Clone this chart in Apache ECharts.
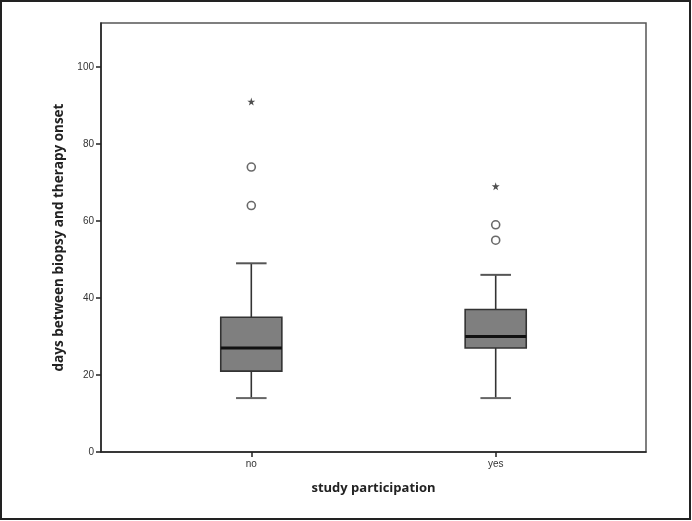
<!DOCTYPE html>
<html>
<head>
<meta charset="utf-8">
<script src="https://cdn.jsdelivr.net/npm/echarts@6/dist/echarts.min.js"></script>
<style>
html,body{margin:0;padding:0;background:#fff;}
#c{width:692px;height:521px;}
</style>
</head>
<body>
<div id="c"></div>
<script>
// Data
const categories = ['no', 'yes'];
// [whiskerLow, Q1, median, Q3, whiskerHigh]
const boxStats = [
  [14, 21, 27, 35, 49],
  [14, 27, 30, 37, 46]
];
const outliers = [[0, 64], [0, 74], [1, 55], [1, 59]];
const extremes = [[0, 91], [1, 69]];
const yTicks = [0, 20, 40, 60, 80, 100];
const xTicks = [0, 1];

const chart = echarts.init(document.getElementById('c'), null, {renderer: 'canvas'});

const boxData = boxStats.map((s, i) => [i].concat(s));

function renderBox(params, api) {
  const x = api.value(0);
  const lo = api.coord([x, api.value(1)]);
  const q1 = api.coord([x, api.value(2)]);
  const md = api.coord([x, api.value(3)]);
  const q3 = api.coord([x, api.value(4)]);
  const hi = api.coord([x, api.value(5)]);
  const w = api.size([1, 0])[0] * 0.25;
  const cx = lo[0];
  const cap = w / 2;
  return {
    type: 'group',
    children: [
      {type: 'line', shape: {x1: cx, y1: lo[1], x2: cx, y2: q1[1]}, style: {stroke: '#333', lineWidth: 1.6}},
      {type: 'line', shape: {x1: cx, y1: q3[1], x2: cx, y2: hi[1]}, style: {stroke: '#333', lineWidth: 1.6}},
      {type: 'line', shape: {x1: cx - cap / 2, y1: lo[1], x2: cx + cap / 2, y2: lo[1]}, style: {stroke: '#666', lineWidth: 2}},
      {type: 'line', shape: {x1: cx - cap / 2, y1: hi[1], x2: cx + cap / 2, y2: hi[1]}, style: {stroke: '#555', lineWidth: 2}},
      {type: 'rect', shape: {x: cx - w / 2, y: q3[1], width: w, height: q1[1] - q3[1]}, style: {fill: '#7f7f7f', stroke: '#333', lineWidth: 1.6}},
      {type: 'line', shape: {x1: cx - w / 2, y1: md[1], x2: cx + w / 2, y2: md[1]}, style: {stroke: '#111', lineWidth: 3}}
    ]
  };
}

const option = {
  animation: false,
  backgroundColor: '#fff',
  graphic: [
    {type: 'rect', shape: {x: 1, y: 1, width: 689, height: 518}, style: {fill: 'none', stroke: '#222', lineWidth: 2}, z: 100}
  ],
  grid: {
    left: 101, right: 46, top: 23, bottom: 69,
    show: true, borderColor: '#555', borderWidth: 1.5, backgroundColor: '#fff'
  },
  xAxis: {
    type: 'value', min: -0.615, max: 1.615,
    splitLine: {show: false},
    axisLine: {show: true, onZero: false, lineStyle: {color: '#222', width: 1.5}},
    axisTick: {show: true, customValues: xTicks, length: 5, lineStyle: {color: '#222', width: 1.5}},
    axisLabel: {customValues: xTicks, formatter: v => categories[Math.round(v)], color: '#333', fontSize: 10, fontFamily: 'Liberation Sans', margin: 7},
    name: 'study participation', nameLocation: 'middle', nameGap: 30,
    nameTextStyle: {fontSize: 13, fontWeight: 'bold', color: '#222', fontFamily: 'Open Sans'}
  },
  yAxis: {
    type: 'value', min: 0, max: 111.4,
    splitLine: {show: false},
    axisLine: {show: true, onZero: false, lineStyle: {color: '#222', width: 1.5}},
    axisTick: {show: true, customValues: yTicks, length: 5, lineStyle: {color: '#222', width: 1.5}},
    axisLabel: {customValues: yTicks, color: '#333', fontSize: 10, fontFamily: 'Liberation Sans', margin: 7},
    name: 'days between biopsy and therapy onset', nameLocation: 'middle', nameGap: 32,
    nameTextStyle: {fontSize: 13.5, fontWeight: 'bold', color: '#222', fontFamily: 'Open Sans'}
  },
  series: [
    {type: 'custom', renderItem: renderBox, data: boxData, encode: {x: 0, y: [1, 5]}, clip: false},
    {type: 'scatter', data: outliers, symbol: 'circle', symbolSize: 8,
     itemStyle: {color: '#fff', borderColor: '#444', borderWidth: 1.6}},
    {type: 'scatter', data: extremes,
     symbol: 'path://M50,0 L61,35 L98,35 L68,57 L79,91 L50,70 L21,91 L32,57 L2,35 L39,35 Z',
     symbolSize: 8, itemStyle: {color: '#222'}}
  ]
};
chart.setOption(option);
</script>
</body>
</html>
